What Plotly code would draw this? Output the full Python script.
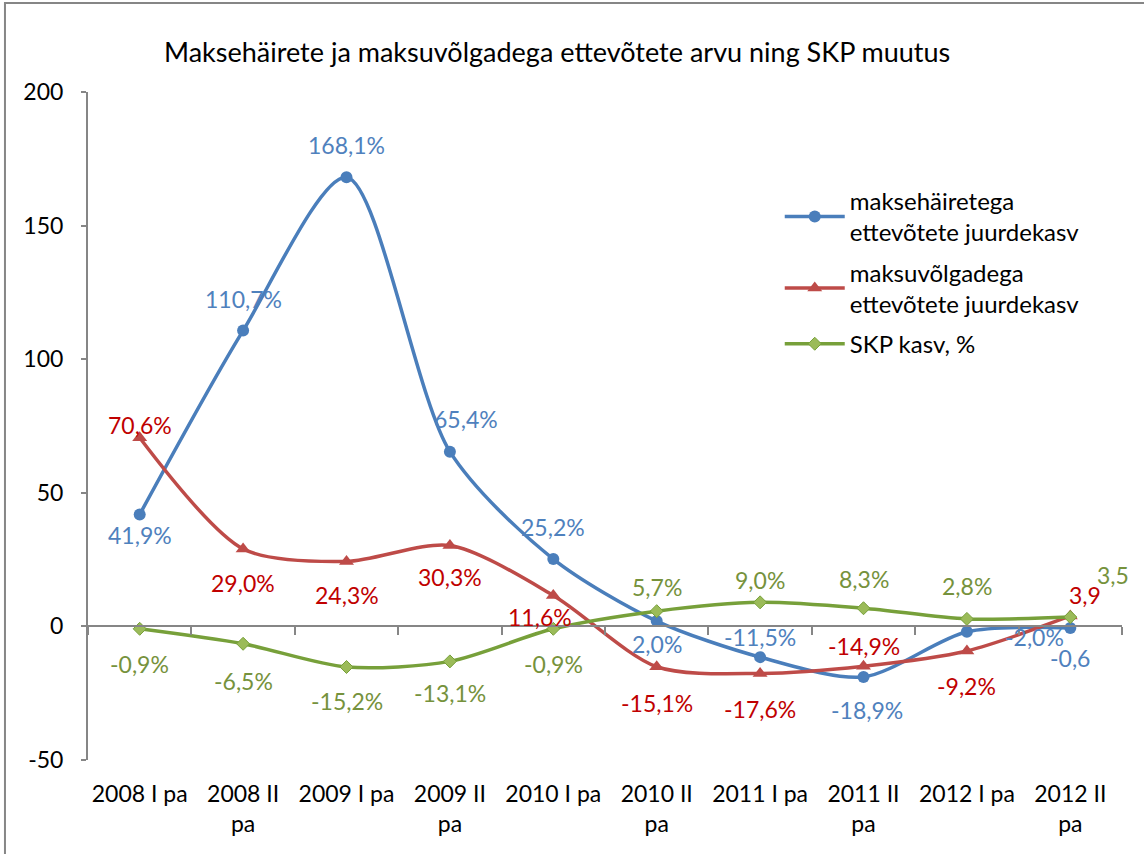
import plotly.graph_objects as go

categories = ["2008 I pa", "2008 II pa", "2009 I pa", "2009 II pa", "2010 I pa",
              "2010 II pa", "2011 I pa", "2011 II pa", "2012 I pa", "2012 II pa"]
tick_labels = ["2008 I pa", "2008 II<br>pa", "2009 I pa", "2009 II<br>pa", "2010 I pa",
               "2010 II<br>pa", "2011 I pa", "2011 II<br>pa", "2012 I pa", "2012 II<br>pa"]
y_tick_vals = [-50, 0, 50, 100, 150, 200]
y_tick_text = ["-50", "0", "50", "100", "150", "200"]

blue_vals = [41.9, 110.7, 168.1, 65.4, 25.2, 2.0, -11.5, -18.9, -2.0, -0.6]
blue_text = ["41,9%", "110,7%", "168,1%", "65,4%", "25,2%", "2,0%", "-11,5%", "-18,9%", "-2,0%", "-0,6"]

red_vals = [70.6, 29.0, 24.3, 30.3, 11.6, -15.1, -17.6, -14.9, -9.2, 3.9]
red_text = ["70,6%", "29,0%", "24,3%", "30,3%", "11,6%", "-15,1%", "-17,6%", "-14,9%", "-9,2%", "3,9"]

green_vals = [-0.9, -6.5, -15.2, -13.1, -0.9, 5.7, 9.0, 6.8, 2.8, 3.5]
green_text = ["-0,9%", "-6,5%", "-15,2%", "-13,1%", "-0,9%", "5,7%", "9,0%", "8,3%", "2,8%", "3,5"]

names = ["maksehäiretega<br>ettevõtete juurdekasv",
         "maksuvõlgadega<br>ettevõtete juurdekasv",
         "SKP kasv, %"]

# label placement (pixel offsets of label centre from its point: dx right, dy down)
blue_lbl = [(0, 21), (0, -32), (0, -32), (16, -33), (0, -32), (0, 23), (0, -20), (3, 33), (68, 5), (0, 30)]
red_lbl = [(0, -13), (0, 34), (0, 34), (0, 32), (-13, 22), (0, 36), (0, 36), (0, -20), (0, 35), (15, -21)]
green_lbl = [(0, 35), (0, 37), (0, 34), (0, 32), (0, 35), (0, -24), (0, -22), (0, -29), (0, -33), (43, -42)]

FONT = "Lato, 'Open Sans', sans-serif"
y_min, y_max = -50, 200

series = [
    (names[0], blue_vals, blue_text, blue_lbl, "#4A7EBB", "#4F81BD",
     dict(symbol="circle", size=12, color="#4A7EBB")),
    (names[1], red_vals, red_text, red_lbl, "#BE4B48", "#C00000",
     dict(symbol="triangle-up", size=13, color="#BE4B48")),
    (names[2], green_vals, green_text, green_lbl, "#77A03A", "#76923C",
     dict(symbol="diamond", size=10, color="#9BBB59", line=dict(color="#77A03A", width=1))),
]

fig = go.Figure()
annotations = []
for i, (name, vals, texts, lbl, lcolor, tcolor, marker) in enumerate(series):
    fig.add_trace(go.Scatter(
        x=categories, y=vals, name=name, mode="lines+markers", legendgroup=f"g{i}",
        line=dict(color=lcolor, width=3.5, shape="spline", smoothing=0.8),
        marker=marker,
    ))
    for c, v, t, (dx, dy) in zip(categories, vals, texts, lbl):
        annotations.append(dict(
            x=c, y=v, xref="x", yref="y", text=t, showarrow=False,
            xanchor="center", yanchor="middle", xshift=dx, yshift=-dy,
            font=dict(color=tcolor, size=23, family=FONT),
        ))

# invisible trace to carry the bottom category labels axis
fig.add_trace(go.Scatter(x=categories, y=[None] * len(categories), xaxis="x2",
                         showlegend=False, hoverinfo="skip", mode="markers",
                         marker=dict(opacity=0)))

zero_pos = (0 - y_min) / (y_max - y_min)

fig.update_layout(
    width=1144, height=854,
    paper_bgcolor="white", plot_bgcolor="white",
    margin=dict(l=88, r=22, t=92, b=94),
    font=dict(family=FONT, size=23, color="black"),
    title=dict(text="Maksehäirete ja maksuvõlgadega ettevõtete arvu ning SKP muutus",
               x=0.487, xanchor="center", y=0.939, yanchor="middle",
               font=dict(size=27, family=FONT, color="black")),
    xaxis=dict(type="category", categoryorder="array", categoryarray=categories,
               anchor="free", position=zero_pos,
               showline=True, linecolor="#868686", linewidth=2,
               ticks="outside", tickson="boundaries", ticklen=8, tickcolor="#868686", tickwidth=2,
               showticklabels=False, showgrid=False, zeroline=False,
               range=[-0.5, len(categories) - 0.5]),
    xaxis2=dict(type="category", categoryorder="array", categoryarray=categories,
                overlaying="x", side="bottom", anchor="y",
                tickmode="array", tickvals=categories, ticktext=tick_labels,
                showline=False, ticks="", showgrid=False, zeroline=False,
                ticklabelstandoff=18,
                tickfont=dict(size=23, family=FONT, color="black"),
                range=[-0.5, len(categories) - 0.5]),
    yaxis=dict(range=[y_min, y_max], tickmode="array", tickvals=y_tick_vals, ticktext=y_tick_text,
               showline=True, linecolor="#868686", linewidth=2,
               ticks="outside", ticklen=5, tickcolor="#868686", tickwidth=2,
               showgrid=False, zeroline=False, ticklabelstandoff=13,
               tickfont=dict(size=23, family=FONT, color="black")),
    legend=dict(x=0.669, y=0.87, xanchor="left", yanchor="top", traceorder="grouped",
                bgcolor="rgba(0,0,0,0)", font=dict(size=24, family=FONT, color="black"),
                tracegroupgap=6, itemwidth=60),
    showlegend=True,
    annotations=annotations,
    shapes=[dict(type="rect", xref="paper", yref="paper",
                 x0=-0.0803, x1=1.03, y0=-0.2, y1=1.1332,
                 line=dict(color="#868686", width=2), fillcolor="rgba(0,0,0,0)", layer="below")],
)

fig.write_html("out.html", config={"displayModeBar": False},
               post_script="document.body.style.margin='0';")
